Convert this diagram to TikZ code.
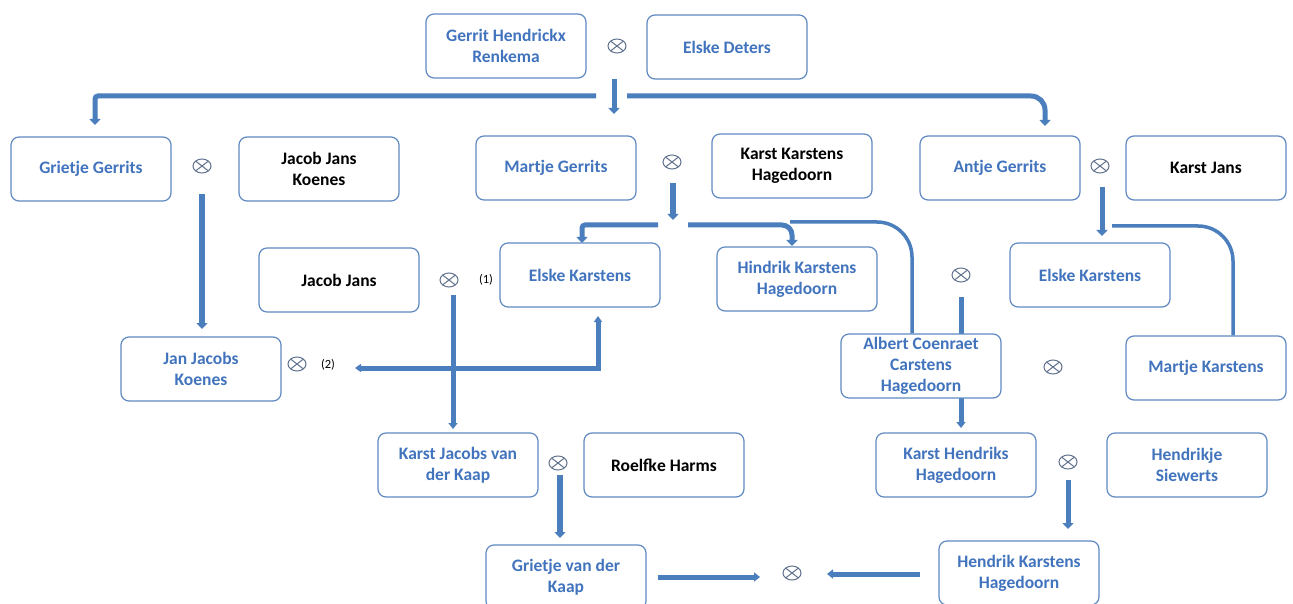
\documentclass[tikz,border=0pt]{standalone}
\usepackage{fontspec}
\setmainfont{Carlito}
\usetikzlibrary{arrows.meta,shapes.geometric,backgrounds}
\definecolor{boxblue}{RGB}{96,137,194}
\definecolor{txtblue}{RGB}{66,116,190}
\definecolor{conn}{RGB}{74,126,188}
\definecolor{otc}{RGB}{96,114,142}
\begin{document}
\begin{tikzpicture}[x=1pt,y=-1pt,
  person/.style={draw=boxblue, line width=1.2pt, rounded corners=8pt, fill=white,
    minimum width=160pt, minimum height=64pt, align=center, inner sep=1pt,
    font=\fontsize{17.5}{21}\selectfont\bfseries, text=txtblue},
  ext/.style={person, text=black},
  otimes/.style={ellipse, draw=otc, line width=1pt, minimum width=18pt, minimum height=14pt, inner sep=0pt,
    path picture={\draw[otc,line width=1pt]
      ([shift={(2pt,-1.6pt)}]path picture bounding box.north west) -- ([shift={(-2pt,1.6pt)}]path picture bounding box.south east)
      ([shift={(-2pt,-1.6pt)}]path picture bounding box.north east) -- ([shift={(2pt,1.6pt)}]path picture bounding box.south west);}},
  lbl/.style={font=\fontsize{12.5}{14}\selectfont, text=black, inner sep=0pt},
  conn/.style={draw=conn, line width=5pt},
  tip/.style={-{Triangle[width=11pt,length=6pt]}},
  smalltip/.style={-{Triangle[width=9pt,length=6pt]}},
  bitip/.style={{Triangle[width=8pt,length=6pt]}-{Triangle[width=8pt,length=6pt]}}
]
\useasboundingbox (0,0) rectangle (1293,604);
\clip (0,0) rectangle (1293,604);

% persons and marriages
\node[person] (gerrit) at (506,46) {Gerrit Hendrickx\\Renkema};
\node[person] (elskeD) at (727,47) {Elske Deters};
\node[otimes] (m0) at (617,46) {};
\node[person] (grietjeG) at (91,169) {Grietje Gerrits};
\node[otimes] (m1) at (202,166) {};
\node[ext] (jacobJK) at (319,169) {Jacob Jans\\Koenes};
\node[person] (martjeG) at (556,168) {Martje Gerrits};
\node[otimes] (m2) at (672,162) {};
\node[ext] (karstKH) at (792,166) {Karst Karstens\\Hagedoorn};
\node[person] (antjeG) at (1000,168) {Antje Gerrits};
\node[otimes] (m3) at (1100,166) {};
\node[ext] (karstJ) at (1206,168) {Karst Jans};
\node[ext] (jacobJ) at (339,280) {Jacob Jans};
\node[otimes] (m4) at (449,280) {};
\node[lbl] (l1) at (486,280) {(1)};
\node[person] (elskeK1) at (580,275) {Elske Karstens};
\node[person] (hindrik) at (797,279) {Hindrik Karstens\\Hagedoorn};
\node[otimes] (m5) at (961,275) {};
\node[person] (elskeK2) at (1090,275) {Elske Karstens};
\node[person] (janJK) at (201,369) {Jan Jacobs\\Koenes};
\node[otimes] (m6) at (297,364) {};
\node[lbl] (l2) at (328,365) {(2)};
\node[person] (albert) at (921,366) {Albert Coenraet\\Carstens\\Hagedoorn};
\node[otimes] (m7) at (1053,367) {};
\node[person] (martjeK) at (1206,368) {Martje Karstens};
\node[person] (karstJvdK) at (458,465) {Karst Jacobs van\\der Kaap};
\node[otimes] (m8) at (558,463) {};
\node[ext] (roelfke) at (664,465) {Roelfke Harms};
\node[person] (karstHH) at (956,465) {Karst Hendriks\\Hagedoorn};
\node[otimes] (m9) at (1068,462) {};
\node[person] (hendrikje) at (1187,465) {Hendrikje\\Siewerts};
\node[person] (grietjeK) at (566,577) {Grietje van der\\Kaap};
\node[otimes] (m10) at (792,573) {};
\node[person] (hendrikKH) at (1019,573) {Hendrik Karstens\\Hagedoorn};

% junction coordinates
\coordinate (j0) at (614,96);
\coordinate (j2) at (673,225);
\coordinate (j3) at (1102,226);

\begin{scope}[on background layer]
\fill[white] (0,0) rectangle (1293,604);
% Gerrit x Elske
\draw[conn,tip] (614,79) -- (614,114);
\draw[conn,tip,rounded corners=3pt] ([xshift=-18pt]j0) -- (95,96) -- (95,125);
\draw[conn,tip,rounded corners=14pt] ([xshift=13pt]j0) -- (1045,96) -- (1045,126);
% Grietje x Jacob
\draw[conn,tip,line width=5.5pt] (202,194) -- (202,329);
% Martje x Karst
\draw[conn,tip,line width=5.5pt] (673,183) -- (673,220);
\draw[conn,tip,rounded corners=3pt] ([xshift=-15pt]j2) -- (582,225) -- (582,243);
\draw[conn,tip,rounded corners=10pt] ([xshift=15pt]j2) -- (792,225) -- (792,246);
\draw[conn,line width=3.5pt,rounded corners=35pt] (790,222) -- (912,222) -- (albert.north -| 912,0);
% Antje x Karst Jans
\draw[conn,tip] (1102,187) -- (1102,236);
\draw[conn,line width=3.5pt,rounded corners=35pt] ([xshift=10pt]j3) -- (1233,226) -- (martjeK.north -| 1233,0);
% Jacob Jans x Elske
\draw[conn,smalltip] (453,295) -- (453,429);
\draw[conn,bitip] (598,316) -- (598,368) -- (355,368);
% Albert x Martje Karstens
\draw[conn,smalltip] (961,297) -- (961,428);
% Karst Hendriks x Hendrikje
\draw[conn,tip] (1068,480) -- (1068,529);
% Karst Jacobs x Roelfke
\draw[conn,tip,line width=5.5pt] (560,475) -- (560,538);
% bottom marriage
\draw[conn,smalltip] (grietjeK.east |- 0,577) ++(11,0) -- (760,577);
\draw[conn,smalltip] (hendrikKH.west |- 0,574) ++(-18,0) -- (827,574);
\end{scope}
\end{tikzpicture}
\end{document}
